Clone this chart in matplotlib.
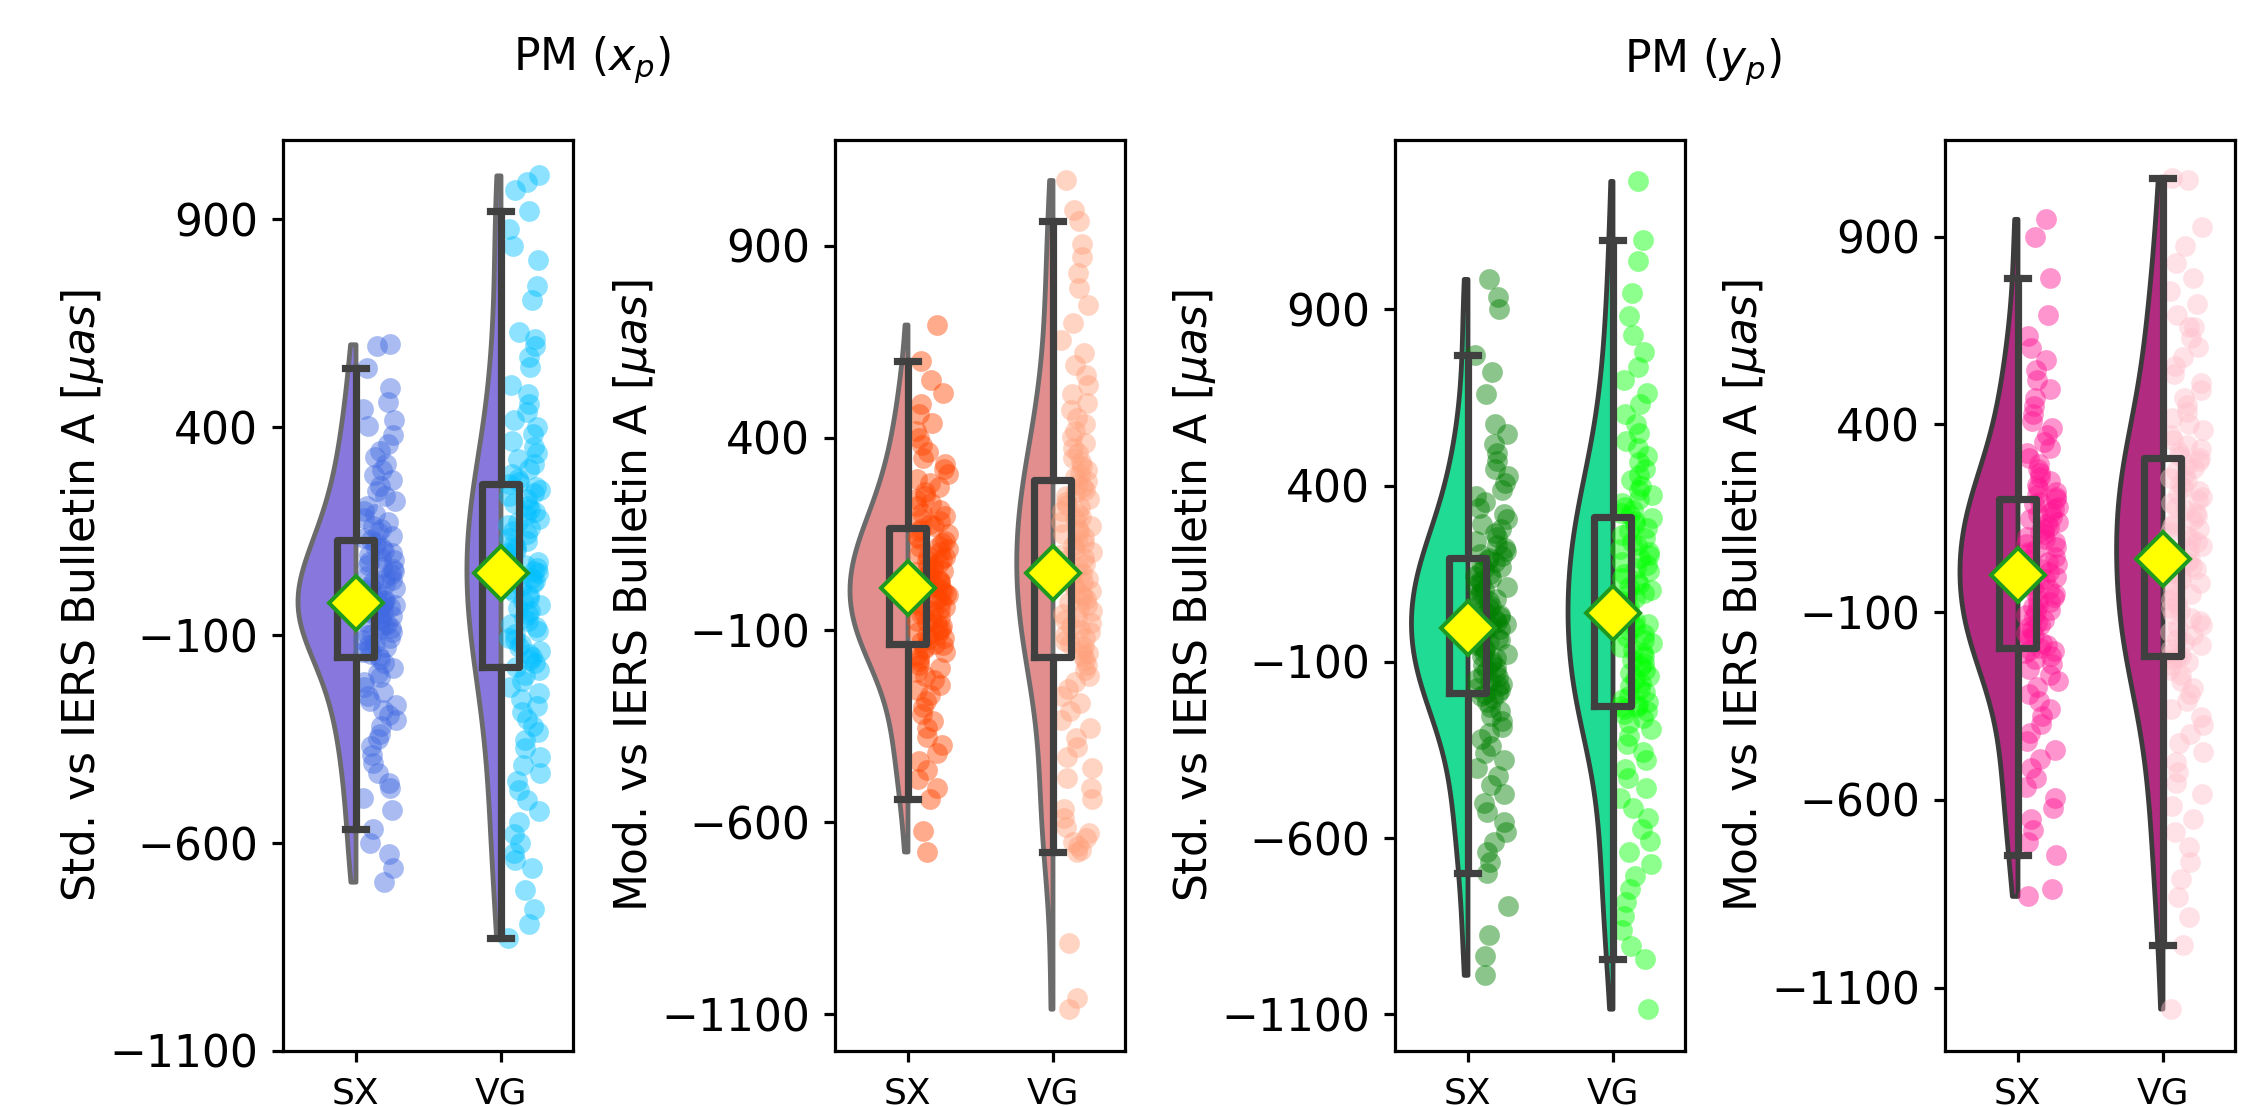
import numpy as np
import matplotlib
matplotlib.use("Agg")
import matplotlib.pyplot as plt

# ---------------- data (read / estimated from the reference) ----------------
categories = ["SX", "VG"]
yticks = [-1100, -600, -100, 400, 900]
panel_titles = ["PM ($x_p$)", "PM ($y_p$)"]
ylabels = ["Std. vs IERS Bulletin A [$\\mu as$]",
           "Mod. vs IERS Bulletin A [$\\mu as$]",
           "Std. vs IERS Bulletin A [$\\mu as$]",
           "Mod. vs IERS Bulletin A [$\\mu as$]"]

# PM x_p, standard solution minus IERS Bulletin A
xp_std_sx = [-693, -661, -627, -601, -566, -521, -492, -468, -455, -431, -407, -389, -366, -351, -338,
             -319, -304, -292, -281, -268, -259, -247, -236, -224, -213, -202, -191, -180, -168, -157,
             -151, -146, -141, -134, -130, -123, -119, -112, -108, -101, -97, -92, -86, -83, -77,
             -73, -68, -64, -60, -55, -51, -48, -44, -41, -38, -35, -33, -31, -29, -27,
             -24, -19, -15, -11, -6, -2, 3, 8, 12, 18, 23, 27, 33, 38, 42,
             47, 53, 58, 64, 69, 75, 81, 86, 92, 97, 103, 109, 114, 121, 128,
             133, 139, 147, 155, 163, 172, 181, 190, 199, 211, 222, 234, 247, 259, 272,
             285, 297, 312, 327, 343, 359, 381, 402, 418, 443, 461, 494, 543, 594, 599]
xp_std_vg = [-829, -795, -758, -712, -660, -642, -625, -601, -578, -549, -523, -497, -472, -450, -431,
             -412, -393, -371, -352, -334, -318, -301, -286, -270, -254, -240, -226, -211, -197, -183,
             -176, -168, -161, -153, -146, -138, -130, -121, -113, -106, -98, -90, -81, -73, -66,
             -58, -50, -42, -34, -27, -19, -11, -4, 4, 11, 18, 25, 31, 37, 43,
             48, 55, 62, 69, 76, 83, 90, 97, 104, 112, 119, 127, 134, 142, 149,
             157, 164, 172, 180, 188, 195, 203, 210, 218, 226, 233, 241, 248, 255, 262,
             268, 276, 287, 299, 311, 324, 338, 352, 367, 383, 399, 417, 435, 456, 479,
             502, 544, 569, 595, 612, 629, 705, 739, 802, 836, 875, 920, 971, 990, 1005]

# PM x_p, modified solution minus IERS Bulletin A
xp_mod_sx = [-676, -623, -540, -512, -488, -463, -441, -420, -398, -377, -356, -337, -318, -301, -285,
             -270, -256, -243, -231, -220, -209, -199, -190, -181, -172, -164, -157, -150, -145, -140,
             -135, -131, -124, -121, -114, -110, -104, -99, -96, -89, -85, -79, -76, -70, -66,
             -59, -55, -51, -44, -41, -35, -29, -26, -20, -16, -9, -5, 1, 4, 9,
             13, 18, 22, 27, 31, 36, 41, 45, 50, 55, 60, 64, 69, 74, 79,
             84, 89, 94, 99, 104, 110, 115, 120, 126, 131, 137, 143, 150, 157, 164,
             170, 176, 183, 190, 197, 205, 213, 222, 231, 240, 250, 260, 271, 282, 294,
             306, 319, 333, 348, 364, 381, 399, 418, 440, 463, 489, 518, 551, 599, 695]
xp_mod_vg = [-1085, -1058, -913, -678, -671, -662, -650, -641, -628, -612, -590, -566, -540, -512, -485,
             -458, -431, -405, -380, -356, -333, -311, -290, -271, -253, -236, -220, -205, -191, -178,
             -168, -160, -153, -145, -137, -129, -121, -113, -106, -98, -90, -82, -74, -67, -59,
             -51, -43, -36, -28, -20, -12, -5, 3, 11, 19, 26, 34, 42, 49, 57,
             64, 72, 80, 87, 95, 103, 110, 118, 126, 134, 141, 149, 157, 164, 172,
             180, 188, 195, 203, 211, 219, 226, 234, 242, 249, 257, 265, 273, 281, 289,
             299, 307, 316, 326, 337, 348, 360, 373, 387, 402, 418, 435, 453, 472, 492,
             514, 538, 563, 590, 620, 655, 700, 745, 790, 830, 870, 905, 964, 992, 1071]

# PM y_p, standard solution minus IERS Bulletin A
yp_std_sx = [-988, -934, -874, -794, -700, -668, -640, -611, -583, -555, -527, -500, -474, -449, -425,
             -402, -380, -359, -339, -320, -302, -285, -269, -254, -240, -227, -215, -204, -196, -191,
             -188, -181, -175, -168, -162, -155, -149, -142, -136, -129, -123, -116, -110, -103, -97,
             -90, -84, -77, -71, -64, -58, -51, -45, -38, -32, -25, -19, -12, -6, 1,
             7, 13, 20, 26, 33, 39, 46, 52, 59, 65, 72, 78, 85, 91, 98,
             104, 111, 117, 124, 130, 137, 143, 150, 156, 163, 169, 176, 182, 188, 194,
             199, 206, 214, 223, 232, 242, 253, 265, 278, 291, 305, 320, 336, 352, 369,
             387, 406, 426, 447, 469, 493, 518, 545, 575, 660, 722, 770, 902, 936, 986]
yp_std_vg = [-1084, -944, -905, -862, -821, -782, -745, -709, -674, -640, -607, -575, -544, -514, -485,
             -457, -430, -404, -379, -355, -332, -311, -292, -275, -260, -248, -240, -234, -229, -226,
             -224, -215, -206, -196, -187, -178, -168, -159, -150, -141, -131, -122, -113, -104, -94,
             -85, -76, -66, -57, -48, -39, -29, -20, -11, -2, 8, 17, 26, 35, 44,
             48, 56, 64, 72, 80, 88, 96, 104, 113, 121, 130, 139, 148, 157, 166,
             175, 184, 193, 202, 211, 220, 230, 240, 250, 260, 270, 280, 290, 300, 308,
             316, 323, 331, 340, 350, 361, 373, 386, 400, 415, 431, 448, 466, 485, 505,
             527, 550, 575, 602, 631, 663, 698, 737, 780, 828, 880, 946, 1036, 1096, 1264]

# PM y_p, modified solution minus IERS Bulletin A
yp_mod_sx = [-856, -837, -747, -712, -680, -650, -622, -594, -567, -541, -516, -491, -467, -444, -421,
             -399, -378, -357, -337, -318, -300, -283, -267, -252, -238, -226, -216, -209, -204, -200,
             -196, -189, -182, -175, -169, -162, -155, -148, -141, -135, -128, -121, -114, -108, -101,
             -94, -87, -80, -74, -67, -60, -53, -47, -40, -33, -26, -20, -13, -6, 0,
             7, 14, 20, 27, 34, 40, 47, 54, 60, 67, 74, 80, 87, 94, 100,
             107, 114, 120, 127, 134, 140, 147, 154, 160, 167, 174, 180, 187, 194, 200,
             205, 212, 220, 229, 238, 248, 259, 270, 282, 295, 309, 323, 338, 354, 371,
             389, 408, 428, 449, 471, 494, 518, 544, 572, 602, 636, 690, 790, 900, 947]
yp_mod_vg = [-1156, -987, -912, -858, -810, -766, -725, -687, -651, -617, -585, -555, -526, -499, -473,
             -448, -424, -401, -379, -358, -338, -319, -301, -284, -268, -254, -242, -232, -225, -220,
             -217, -208, -199, -189, -180, -171, -162, -152, -143, -134, -125, -115, -106, -97, -88,
             -78, -69, -60, -51, -41, -32, -23, -14, -4, 5, 14, 23, 33, 42, 51,
             60, 69, 77, 86, 94, 103, 112, 120, 129, 137, 146, 155, 163, 172, 180,
             189, 198, 206, 215, 223, 232, 241, 249, 258, 266, 275, 284, 292, 301, 309,
             316, 325, 335, 346, 358, 371, 385, 400, 416, 433, 451, 470, 490, 511, 533,
             556, 580, 605, 631, 658, 660, 690, 720, 755, 790, 830, 875, 925, 1050, 1055]

panels = [(xp_std_sx, xp_std_vg), (xp_mod_sx, xp_mod_vg),
          (yp_std_sx, yp_std_vg), (yp_mod_sx, yp_mod_vg)]

# ---------------- styles ----------------
violin_face = ["#8878DD", "#E28E8E", "#1FDB93", "#B12B80"]
violin_edge = ["#6b6b6b", "#6b6b6b", "#3c3c3c", "#3c3c3c"]
violin_widths = [[0.80, 0.47], [0.80, 0.50], [0.78, 0.62], [0.80, 0.64]]
point_colors = [("royalblue", "deepskyblue"), ("orangered", "lightsalmon"),
                ("green", "lime"), ("deeppink", "pink")]
ylims = [(-1100, 1090), (-1195, 1175), (-1204, 1380), (-1269, 1157)]
ax_lefts = [283, 835, 1395, 1945]
W, H = 2263, 1106
DPI = 288
box_col = "#404040"

fig = plt.figure(figsize=(W / DPI, H / DPI), dpi=DPI)
rng = np.random.default_rng(7)
positions = np.arange(len(categories))

for k, (data, left) in enumerate(zip(panels, ax_lefts)):
    ax = fig.add_axes([left / W, 55 / H, 290 / W, 911 / H])
    groups = [np.asarray(g, dtype=float) for g in data]

    vp = ax.violinplot(groups, positions=positions, widths=violin_widths[k],
                       side="low", showextrema=False)
    for b in vp["bodies"]:
        b.set_facecolor(violin_face[k])
        b.set_edgecolor(violin_edge[k])
        b.set_linewidth(1.2)
        b.set_alpha(1)
        b.set_zorder(1)

    for i, g in enumerate(groups):
        jit = rng.uniform(0.05, 0.28, size=len(g))
        ax.scatter(positions[i] + jit, g, s=27, color=point_colors[k][i],
                   alpha=0.45, linewidths=0, zorder=2)

    ax.boxplot(groups, positions=positions, widths=0.25, showfliers=False,
               showmeans=True, whis=1.5, zorder=3, capwidths=0.15,
               boxprops=dict(color=box_col, linewidth=1.8),
               whiskerprops=dict(color=box_col, linewidth=1.8),
               capprops=dict(color=box_col, linewidth=1.8),
               medianprops=dict(linewidth=0),
               meanprops=dict(marker="D", markerfacecolor="yellow",
                              markeredgecolor="#1f9a1f", markersize=9.5,
                              markeredgewidth=1.0))

    ax.set_xlim(-0.5, 1.5)
    ax.set_ylim(*ylims[k])
    ax.set_xticks(positions)
    ax.set_xticklabels(categories, fontsize=9)
    ax.set_yticks(yticks)
    ax.tick_params(axis="y", labelsize=11, length=2.8)
    ax.tick_params(axis="x", length=2.8)
    ax.set_ylabel(ylabels[k], fontsize=11, labelpad=0.8)

fig.text(592 / W, 1 - 70 / H, panel_titles[0], ha="center", va="baseline", fontsize=11)
fig.text(1703 / W, 1 - 72 / H, panel_titles[1], ha="center", va="baseline", fontsize=11)

fig.savefig("out.png", dpi=DPI)
